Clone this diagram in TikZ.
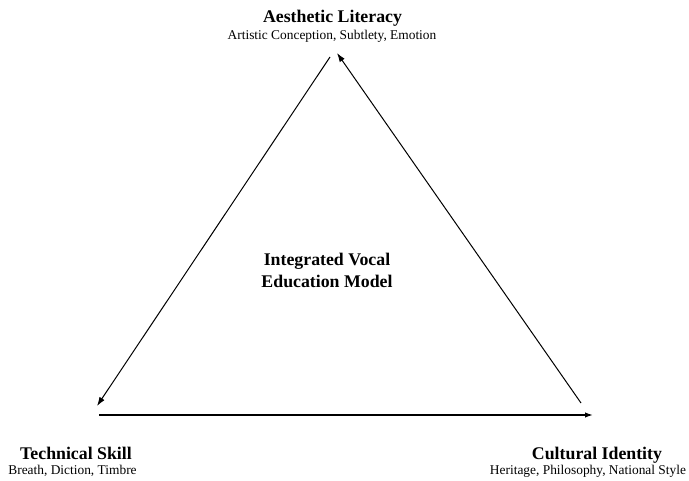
\documentclass[tikz,border=0pt]{standalone}
\usepackage{fontspec}
\setmainfont{Liberation Serif}
\usetikzlibrary{arrows.meta}
\begin{document}
\begin{tikzpicture}[x=1pt,y=-1pt,
  title/.style={font=\fontsize{17.8}{20}\selectfont\bfseries, anchor=base, inner sep=0pt},
  sub/.style={font=\fontsize{13.4}{15}\selectfont, anchor=base, inner sep=0pt},
  conn/.style={line width=1pt, -{Latex[length=9pt,width=6pt]}},
  baseconn/.style={line width=1.5pt, -{Latex[length=8pt,width=5.5pt]}}]
\useasboundingbox[fill=white] (0,0) rectangle (689,481);
% vertices
\coordinate (topL) at (330,57);
\coordinate (topR) at (337,53);
\coordinate (leftT) at (97,406);
\coordinate (leftB) at (99,415);
\coordinate (rightB) at (593,415);
\coordinate (rightT) at (581,403);
\draw[conn] (topL) -- (leftT);
\draw[baseconn] (leftB) -- (rightB);
\draw[conn] (rightT) -- (topR);
% labels
\node[title] (aes) at (332.5,23) {Aesthetic Literacy};
\node[sub] (aessub) at (332,40) {Artistic Conception, Subtlety, Emotion};
\node[title] (tech) at (76,460) {Technical Skill};
\node[sub] (techsub) at (72.5,474) {Breath, Diction, Timbre};
\node[title] (cult) at (597,460) {Cultural Identity};
\node[sub] (cultsub) at (588,474) {Heritage, Philosophy, National Style};
\node[title] (c1) at (327,266) {Integrated Vocal};
\node[title] (c2) at (327,288) {Education Model};
\end{tikzpicture}
\end{document}
